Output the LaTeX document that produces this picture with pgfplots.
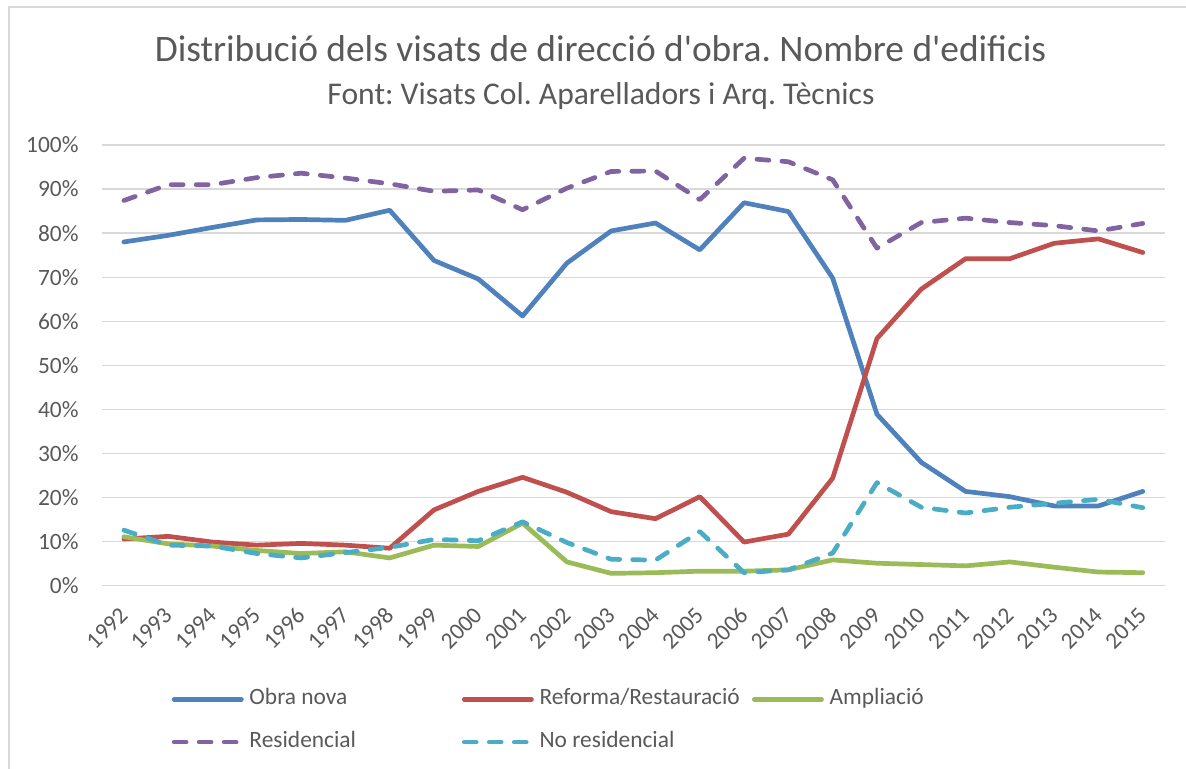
\documentclass[border=0pt]{standalone}
\usepackage{pgfplots}
\pgfplotsset{compat=1.18}
\usepackage{fontspec}
\setmainfont{Carlito}[Ligatures=TeXOff]
\definecolor{txt}{HTML}{595959}
\definecolor{gridc}{HTML}{D9D9D9}
\definecolor{frame}{HTML}{D9D9D9}
\definecolor{cObra}{HTML}{4F81BD}
\definecolor{cRef}{HTML}{C0504D}
\definecolor{cAmp}{HTML}{9BBB59}
\definecolor{cRes}{HTML}{8064A2}
\definecolor{cNoR}{HTML}{4BACC6}
\frenchspacing
\begin{document}
\begin{tikzpicture}
\path[use as bounding box] (0,0) rectangle (593pt,-384.5pt);
\draw[color=frame, line width=0.7pt] (4.5pt,-390pt) -- (4.5pt,-3.6pt) -- (600pt,-3.6pt);
\node[anchor=base, font=\fontsize{18.7}{21}\selectfont, text=txt, inner sep=0pt] at (300.25pt,-30.85pt) {Distribució dels visats de direcció d'obra. Nombre d'edificis};
\node[anchor=base, font=\fontsize{15.8}{18}\selectfont, text=txt, inner sep=0pt] at (300.5pt,-52.5pt) {Font: Visats Col. Aparelladors i Arq. Tècnics};
\begin{axis}[
  at={(50.875pt,-292.85pt)}, anchor=south west,
  scale only axis, width=531.575pt, height=220.35pt,
  xmin=-0.5, xmax=23.5, ymin=0, ymax=100,
  axis line style={draw=none},
  major tick length=0pt,
  tick style={draw=none},
  ytick={0,10,...,100},
  yticklabel={\pgfmathprintnumber{\tick}\%},
  xtick={0,...,23},
  xticklabels={1992,1993,1994,1995,1996,1997,1998,1999,2000,2001,2002,2003,2004,2005,2006,2007,2008,2009,2010,2011,2012,2013,2014,2015},
  ymajorgrids,
  grid style={color=gridc, line width=0.65pt},
  /pgf/number format/assume math mode=true,
  ticklabel style={font=\fontsize{11.7}{13}\selectfont, text=txt, inner sep=0pt},
  yticklabel style={anchor=east, xshift=-11.4pt},
  xticklabel style={rotate=45, anchor=east},
  xticklabel shift=12.7pt,
  every axis plot/.append style={line width=2.35pt, line cap=round, line join=round},
  legend columns=3,
  legend image code/.code={\draw[#1] (0pt,0pt) -- (33.6pt,0pt);},
  legend style={at={(0.0655,-0.2333)}, anchor=north west, draw=none, fill=none,
    font=\fontsize{11.7}{13}\selectfont, text=txt, inner sep=0pt,
    nodes={inner sep=0pt, text height=8pt, text depth=2.5pt},
    row sep=10.85pt,
    /tikz/every odd column/.append style={column sep=2.9pt},
    /tikz/every even column/.append style={column sep=2.2pt}},
  legend cell align=left,
]
\addplot[cObra] coordinates {(0,78.0)(1,79.5)(2,81.3)(3,83.0)(4,83.1)(5,82.9)(6,85.2)(7,73.8)(8,69.6)(9,61.2)(10,73.2)(11,80.5)(12,82.3)(13,76.2)(14,86.9)(15,84.9)(16,69.8)(17,38.9)(18,28.0)(19,21.4)(20,20.2)(21,18.1)(22,18.1)(23,21.4)};
\addlegendentry{\makebox[104pt][l]{Obra nova}}
\addplot[cRef] coordinates {(0,10.6)(1,11.2)(2,9.9)(3,9.2)(4,9.6)(5,9.2)(6,8.5)(7,17.2)(8,21.4)(9,24.6)(10,21.2)(11,16.8)(12,15.2)(13,20.2)(14,9.9)(15,11.7)(16,24.4)(17,56.1)(18,67.3)(19,74.2)(20,74.2)(21,77.7)(22,78.7)(23,75.6)};
\addlegendentry{\makebox[104pt][l]{Reforma/Restauració}}
\addplot[cAmp] coordinates {(0,11.1)(1,9.5)(2,9.0)(3,8.0)(4,7.3)(5,7.7)(6,6.3)(7,9.2)(8,8.9)(9,14.2)(10,5.4)(11,2.8)(12,2.95)(13,3.3)(14,3.3)(15,3.6)(16,5.85)(17,5.1)(18,4.8)(19,4.5)(20,5.4)(21,4.2)(22,3.1)(23,2.95)};
\addlegendentry{Ampliació}
\addplot[cRes, dash pattern=on 6pt off 6.5pt] coordinates {(0,87.4)(1,91.0)(2,91.0)(3,92.6)(4,93.6)(5,92.5)(6,91.2)(7,89.5)(8,89.8)(9,85.3)(10,90.2)(11,94.0)(12,94.1)(13,87.6)(14,97.0)(15,96.2)(16,92.1)(17,76.6)(18,82.4)(19,83.4)(20,82.4)(21,81.7)(22,80.5)(23,82.2)};
\addlegendentry{\makebox[104pt][l]{Residencial}}
\addplot[cNoR, dash pattern=on 6pt off 6.5pt] coordinates {(0,12.6)(1,9.2)(2,9.0)(3,7.3)(4,6.3)(5,7.5)(6,8.7)(7,10.5)(8,10.2)(9,14.5)(10,9.8)(11,6.0)(12,5.8)(13,12.3)(14,2.95)(15,3.6)(16,7.4)(17,23.4)(18,17.8)(19,16.5)(20,17.8)(21,18.7)(22,19.6)(23,17.7)};
\addlegendentry{\makebox[104pt][l]{No residencial}}
\end{axis}
\end{tikzpicture}
\end{document}
